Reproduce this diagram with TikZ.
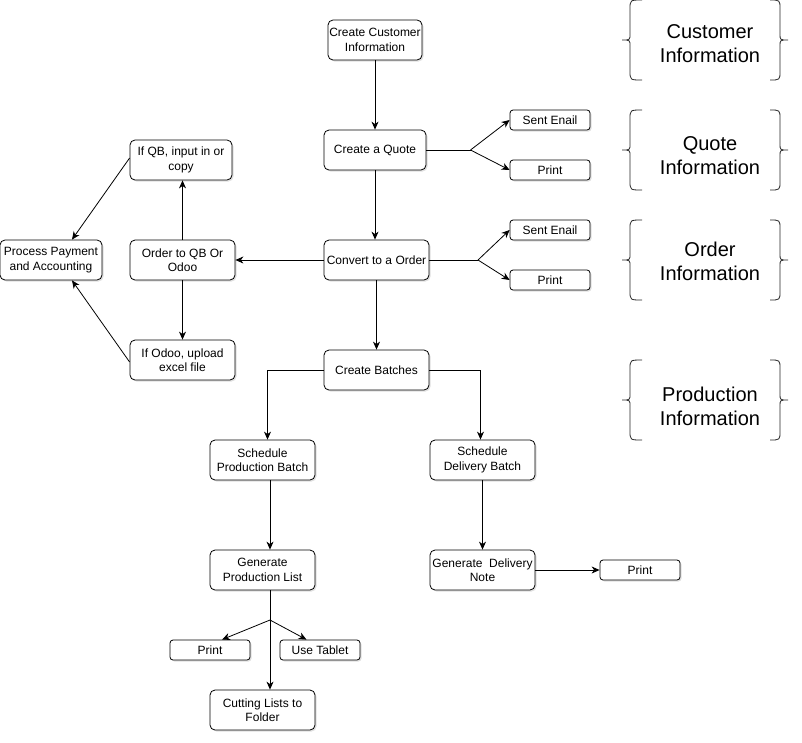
\documentclass[tikz,border=0pt]{standalone}
\usepackage{fontspec}
\setmainfont{Liberation Sans}
\usetikzlibrary{arrows.meta,shadows,calc}
\begin{document}
\begin{tikzpicture}[x=1pt,y=-1pt,
  box/.style={draw, line width=0.8pt, rounded corners=5pt, fill=white, align=center, inner sep=0pt,
    font=\fontsize{12}{14.5}\selectfont,
    drop shadow={shadow xshift=1.5pt, shadow yshift=-1.5pt, opacity=0.25, fill=gray}},
  smallbox/.style={box, rounded corners=3pt, minimum width=80pt, minimum height=20pt},
  bigbox/.style={box, minimum width=105pt, minimum height=40pt},
  conn/.style={line width=0.8pt},
  arr/.style={conn, -{Stealth[length=8pt,width=7pt,inset=2.5pt]}},
  brace/.style={line width=0.8pt, draw=black!85},
  biglabel/.style={align=center, font=\fontsize{20}{24}\selectfont, inner sep=0pt},
]
\useasboundingbox (0,0) rectangle (802,742);

% main column
\node[box, minimum width=94pt, minimum height=40pt] (cust) at (375,40) {Create Customer\\Information};
\node[box, minimum width=102pt, minimum height=40pt] (quote) at (375,150) {Create a Quote};
\node[bigbox] (order) at (376.5,260) {Convert to a Order};
\node[bigbox] (batch) at (376.5,370) {Create Batches};

\node[smallbox] (qmail) at (550,120) {Sent Enail};
\node[smallbox] (qprint) at (550,170) {Print};
\node[smallbox] (omail) at (550,230) {Sent Enail};
\node[smallbox] (oprint) at (550,280) {Print};

% left side
\node[bigbox] (toqb) at (182.5,260) {Order to QB Or\\Odoo};
\node[box, minimum width=102pt, minimum height=40pt] (ifqb) at (181,160) {If QB, input in or\\copy};
\node[bigbox] (ifodoo) at (182.5,360) {If Odoo, upload\\excel file};
\node[box, minimum width=102pt, minimum height=40pt] (pay) at (51,260) {Process Payment\\and Accounting};

% production
\node[bigbox] (schprod) at (262.5,460) {Schedule\\Production Batch};
\node[bigbox] (schdel) at (482.5,460) {Schedule\\Delivery Batch};
\node[bigbox] (genprod) at (262.5,570) {Generate\\Production List};
\node[bigbox] (gendel) at (482.5,570) {Generate \ Delivery\\Note};
\node[smallbox] (dprint) at (640,570) {Print};
\node[smallbox] (pprint) at (210,650) {Print};
\node[smallbox] (tablet) at (320,650) {Use Tablet};
\node[bigbox] (cut) at (262.5,710) {Cutting Lists to\\Folder};

% connectors
\draw[arr] (cust) -- (quote);
\draw[arr] (quote) -- (order.north -| quote);
\coordinate (qb) at (470.5,150);
\draw[conn] (quote.east) -- (qb);
\draw[arr] (qb) -- (qmail.west);
\draw[arr] (qb) -- (qprint.west);
\coordinate (ob) at (478,260);
\draw[conn] (order.east) -- (ob);
\draw[arr] (ob) -- (omail.west);
\draw[arr] (ob) -- (oprint.west);
\draw[arr] (order.west) -- (toqb.east);
\draw[arr] (toqb.north) -- (ifqb.south -| toqb.north);
\draw[arr] (toqb.south) -- (ifodoo.north);
\draw[arr] ([yshift=2pt]ifqb.west) -- ([xshift=21pt]pay.north);
\draw[arr] ([yshift=-2pt]ifodoo.west) -- ([xshift=21pt]pay.south);
\draw[arr] (order.south) -- (batch.north);
\coordinate (bl) at (267.5,370);
\coordinate (br) at (480.5,370);
\draw[arr] (batch.west) -- (bl) -- (bl |- schprod.north);
\draw[arr] (batch.east) -- (br) -- (br |- schdel.north);
\coordinate (px) at (270,480);
\draw[arr] (px) -- (px |- genprod.north);
\draw[arr] (schdel.south) -- (gendel.north);
\draw[arr] (gendel.east) -- (dprint.west);
\coordinate (gb) at (270,620);
\draw[conn] (px |- genprod.south) -- (gb);
\draw[arr] (gb) -- (cut.north -| gb);
\draw[arr] (gb) -- ([xshift=12pt]pprint.north);
\draw[arr] (gb) -- ([xshift=-13.5pt]tablet.north);

% braces and labels
\foreach \ya/\yb/\yt/\nm/\txt in {0/80/44/lcust/{Customer\\Information}, 110/190/156/lquote/{Quote\\Information}, 220/300/261/lorder/{Order\\Information}, 360/440/406/lprod/{Production\\Information}}{
  \pgfmathsetmacro{\ym}{(\ya+\yb)/2}
  \draw[brace] (642,\ya) .. controls (630,\ya) .. (630,\ya+9) -- (630,\ym-6) .. controls (630,\ym) .. (622,\ym)
     .. controls (630,\ym) .. (630,\ym+6) -- (630,\yb-9) .. controls (630,\yb) .. (642,\yb);
  \draw[brace] (770,\ya) .. controls (780,\ya) .. (780,\ya+9) -- (780,\ym-6) .. controls (780,\ym) .. (788,\ym)
     .. controls (780,\ym) .. (780,\ym+6) -- (780,\yb-9) .. controls (780,\yb) .. (770,\yb);
  \node[biglabel] (\nm) at (710,\yt) {\txt};
}
\end{tikzpicture}
\end{document}
